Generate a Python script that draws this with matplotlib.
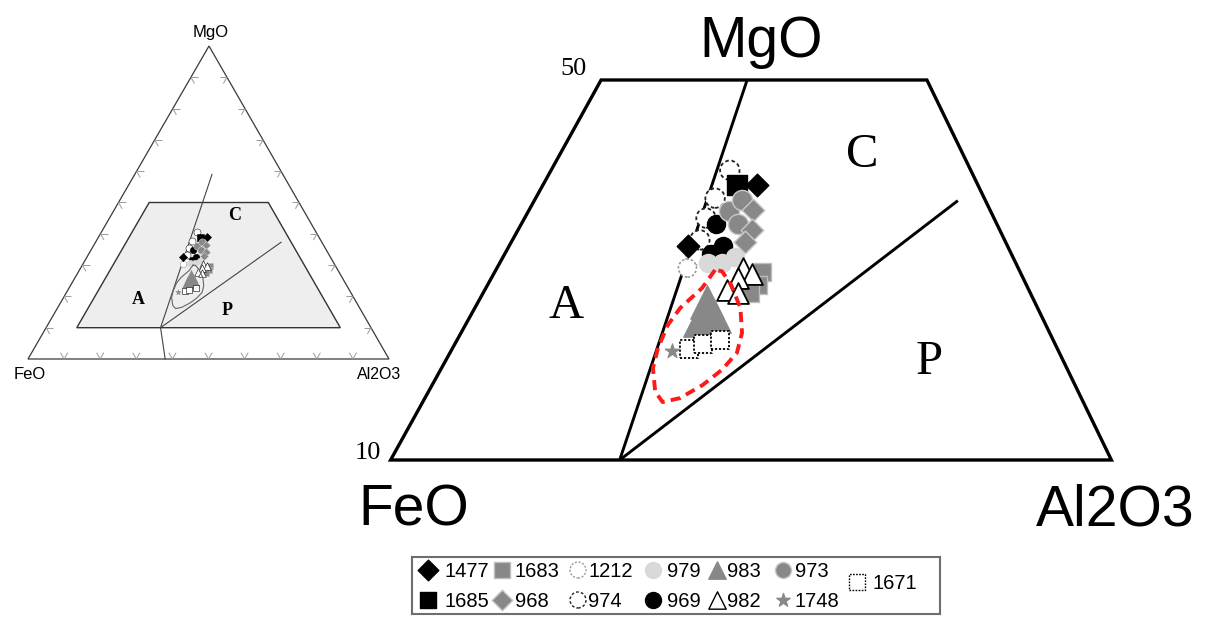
import numpy as np
import matplotlib
matplotlib.use("Agg")
import matplotlib.pyplot as plt
from matplotlib.transforms import Affine2D
from matplotlib.patches import Polygon
from matplotlib.collections import LineCollection

W, H = 1205, 617

# ---------------- compositions, wt% (FeO, MgO, Al2O3) ----------------
c1477 = [(30.9, 39.0, 30.2), (40.9, 32.5, 26.6)]
c1683 = [(34.7, 29.8, 35.6), (35.7, 28.4, 35.9), (36.9, 27.6, 35.5)]
c1212 = [(40.7, 31.5, 27.9), (42.0, 30.2, 27.8)]
c979 = [(39.7, 30.7, 29.6), (38.3, 30.7, 31.0), (36.7, 31.4, 32.0)]
c983 = [(41.7, 26.6, 31.7), (43.3, 24.7, 32.0), (41.7, 25.2, 33.2)]
c973 = [(35.0, 36.2, 28.8), (33.1, 37.4, 29.5), (34.7, 34.8, 30.5)]
c1671 = [(45.8, 21.7, 32.5), (44.2, 22.2, 33.6), (42.3, 22.6, 35.1)]
c1685 = [(32.9, 39.0, 28.2)]
c968 = [(32.5, 36.3, 31.2), (33.6, 34.2, 32.2), (34.9, 33.0, 32.2)]
c974 = [(32.9, 40.5, 26.6), (35.8, 37.6, 26.7), (37.7, 35.5, 26.9), (39.4, 33.2, 27.5)]
c969 = [(36.9, 34.8, 28.2), (37.3, 32.5, 30.2), (38.9, 31.7, 29.4)]
c982 = [(36.4, 30.2, 33.4), (35.8, 29.6, 34.7), (37.4, 29.2, 33.5),
        (39.1, 27.9, 33.0), (38.1, 27.6, 34.3)]
c1748 = [(47.6, 21.5, 30.9)]

samples = {"1477": c1477, "1683": c1683, "1212": c1212, "979": c979,
           "983": c983, "973": c973, "1671": c1671, "1685": c1685,
           "968": c968, "974": c974, "969": c969, "982": c982, "1748": c1748}

# field window (MgO 10-50) and field boundaries
field_window = [(81.5, 10, 8.5), (8.5, 10, 81.5), (8.5, 50, 41.5), (41.5, 50, 8.5)]
boundary_AC = [(62.0, 0, 38.0), (58.3, 10, 31.7), (19.6, 59, 21.4)]
boundary_CP = [(58.3, 10, 31.7), (11.3, 37.3, 51.4)]
# outline of the sample group
group_outline = [(39.3, 30.0, 30.7), (41.5, 28.1, 30.4), (44.7, 26.0, 29.3),
                 (46.8, 24.2, 29.0), (48.9, 21.8, 29.3), (50.4, 19.7, 29.9),
                 (51.4, 17.2, 31.5), (51.1, 16.1, 32.8), (49.1, 16.5, 34.3),
                 (46.2, 17.9, 35.9), (43.5, 19.5, 37.0), (41.2, 21.3, 37.6),
                 (39.7, 23.4, 37.0), (38.6, 26.0, 35.4), (38.4, 28.5, 33.1),
                 (38.7, 29.9, 31.5)]
tick_levels = [10, 20, 30, 40, 50, 60, 70, 80, 90]

GREY = "#888888"
LIGHT = "#d9d9d9"
styles = {
    "1477": dict(marker="D", fc="black", ec="black", ls="solid", ms=11.5, lw=1.0),
    "1683": dict(marker="s", fc=GREY, ec="#bdbdbd", ls="solid", ms=13, lw=1.0),
    "1212": dict(marker="o", fc="white", ec="#9a9a9a", ls=(0, (1.5, 1.2)), ms=13, lw=1.2),
    "979": dict(marker="o", fc=LIGHT, ec=LIGHT, ls="solid", ms=13, lw=1.0),
    "983": dict(marker="^", fc=GREY, ec=GREY, ls="solid", ms=24, lw=1.0),
    "973": dict(marker="o", fc=GREY, ec="#c8c8c8", ls="solid", ms=14.5, lw=1.0),
    "1671": dict(marker="s", fc="white", ec="black", ls=(0, (1.2, 1.0)), ms=13, lw=1.3),
    "1685": dict(marker="s", fc="black", ec="black", ls="solid", ms=14, lw=1.0),
    "968": dict(marker="D", fc=GREY, ec="#c8c8c8", ls="solid", ms=11.5, lw=1.0),
    "974": dict(marker="o", fc="white", ec="#222222", ls=(0, (2.0, 1.5)), ms=14, lw=1.3),
    "969": dict(marker="o", fc="black", ec="black", ls="solid", ms=13, lw=1.0),
    "982": dict(marker="^", fc="white", ec="black", ls="solid", ms=15, lw=1.3),
    "1748": dict(marker="*", fc=GREY, ec=GREY, ls="solid", ms=11, lw=0.8),
}
draw_order = ["1212", "974", "1685", "1477", "969", "979", "973", "968",
              "1683", "982", "983", "1671", "1748"]


def cart(rows):
    r = np.asarray(rows, float)
    r = r / r.sum(axis=1, keepdims=True)
    x = r[:, 2] + r[:, 1] / 2.0
    y = r[:, 1] * np.sqrt(3) / 2.0
    return np.column_stack([x, y])


def fit_affine(src, dst):
    src = np.asarray(src, float)
    dst = np.asarray(dst, float)
    A = np.column_stack([src, np.ones(len(src))])
    coef, *_ = np.linalg.lstsq(A, dst, rcond=None)
    m = np.eye(3)
    m[0, :] = coef[:, 0]
    m[1, :] = coef[:, 1]
    return Affine2D(m)


fig = plt.figure(figsize=(W / 100, H / 100), dpi=100)
ax = fig.add_axes([0, 0, 1, 1])
ax.set_xlim(0, W)
ax.set_ylim(H, 0)
ax.axis("off")

SANS = "Liberation Sans"
SERIF = "Liberation Serif"

# ---------------- inset: full ternary ----------------
corners = [(100, 0, 0), (0, 0, 100), (0, 100, 0)]
tr_in = fit_affine(cart(corners), [(28, 359), (389, 359), (209, 46)]) + ax.transData

tri = Polygon(cart(corners), closed=True, fill=False, ec="#3a3a3a", lw=0.9,
              transform=tr_in, zorder=2)
ax.add_patch(tri)

# chevron ticks along the three edges
L = 0.02
segs = []
s3 = np.sqrt(3) / 2
for t in np.asarray(tick_levels) / 100.0:
    p = np.array([t, 0.0])
    for d in [(0.5, s3), (-0.5, s3)]:
        segs.append([p, p + L * np.array(d)])
    p = np.array([0.5 * t, s3 * t])
    for d in [(1.0, 0.0), (0.5, -s3)]:
        segs.append([p, p + L * np.array(d)])
    p = np.array([1 - 0.5 * t, s3 * t])
    for d in [(-1.0, 0.0), (-0.5, -s3)]:
        segs.append([p, p + L * np.array(d)])
ax.add_collection(LineCollection(segs, colors="#9a9a9a", linewidths=0.7,
                                 transform=tr_in, zorder=2))

win_in = Polygon(cart(field_window), closed=True, fc="#eeeeee", ec="#333333",
                 lw=1.0, transform=tr_in, zorder=3)
ax.add_patch(win_in)
for b in (boundary_AC, boundary_CP):
    xy = cart(b)
    ax.plot(xy[:, 0], xy[:, 1], color="#444444", lw=0.8, transform=tr_in, zorder=4)

g = cart(group_outline + group_outline[:1])
ax.plot(g[:, 0], g[:, 1], color="#666666", lw=0.8, transform=tr_in, zorder=6)

for k, name in enumerate(draw_order):
    st = styles[name]
    xy = cart(samples[name])
    ax.scatter(xy[:, 0], xy[:, 1], s=(st["ms"] * 0.36) ** 2, marker=st["marker"],
               facecolors=st["fc"], edgecolors=st["ec"], linewidths=0.4,
               transform=tr_in, zorder=5)

ax.text(211, 37, "MgO", family=SANS, fontsize=12, ha="center", va="baseline")
ax.text(30, 379, "FeO", family=SANS, fontsize=12, ha="center", va="baseline")
ax.text(379, 379, "Al2O3", family=SANS, fontsize=11.5, ha="center", va="baseline")
ax.text(138, 304, "A", family=SERIF, fontsize=13, weight="bold", ha="center", va="baseline")
ax.text(235, 220, "C", family=SERIF, fontsize=13, weight="bold", ha="center", va="baseline")
ax.text(227, 315, "P", family=SERIF, fontsize=13, weight="bold", ha="center", va="baseline")

# ---------------- main: enlarged field window ----------------
tr_main = fit_affine(cart(field_window),
                     [(392, 460), (1110, 460), (930, 80), (598, 80)]) + ax.transData

win = Polygon(cart(field_window), closed=True, fill=False, ec="black", lw=2.4,
              joinstyle="miter", transform=tr_main, zorder=10)
ax.add_patch(win)
for b in (boundary_AC, boundary_CP):
    xy = cart(b)
    ln, = ax.plot(xy[:, 0], xy[:, 1], color="black", lw=2.1, transform=tr_main,
                  zorder=9, solid_capstyle="butt")
    ln.set_clip_path(win)

for name in draw_order:
    st = styles[name]
    xy = cart(samples[name])
    ax.scatter(xy[:, 0], xy[:, 1], s=st["ms"] ** 2, marker=st["marker"],
               facecolors=st["fc"], edgecolors=st["ec"], linewidths=st["lw"],
               linestyles=[st["ls"]], transform=tr_main, zorder=11)

g = cart(group_outline + group_outline[:1])
ax.plot(g[:, 0], g[:, 1], color="#ff1a1a", lw=2.8, linestyle=(0, (2.6, 1.6)),
        transform=tr_main, zorder=12)

ax.text(761, 57, "MgO", family=SANS, fontsize=41, ha="center", va="baseline")
ax.text(414, 525, "FeO", family=SANS, fontsize=41, ha="center", va="baseline")
ax.text(1115, 525, "Al2O3", family=SANS, fontsize=41, ha="center", va="baseline")
ax.text(566, 318, "A", family=SERIF, fontsize=35, ha="center", va="baseline")
ax.text(862, 167, "C", family=SERIF, fontsize=35, ha="center", va="baseline")
ax.text(929, 374, "P", family=SERIF, fontsize=35, ha="center", va="baseline")
ax.text(574, 75, "50", family=SERIF, fontsize=19, ha="center", va="baseline")
ax.text(368, 459, "10", family=SERIF, fontsize=19, ha="center", va="baseline")

# ---------------- legend ----------------
lax = fig.add_axes([412 / W, 1 - 614 / H, 528 / W, 57 / H])
lax.set_xlim(412, 940)
lax.set_ylim(614, 557)
lax.set_xticks([])
lax.set_yticks([])
for sp in lax.spines.values():
    sp.set_color("#6e6e6e")
    sp.set_linewidth(1.5)

legend_rows = [["1477", "1683", "1212", "979", "983", "973"],
               ["1685", "968", "974", "969", "982", "1748"]]
key_x = [428, 502, 578, 653, 717, 783]
text_x = [445, 515, 588, 667, 727, 795]
row_y = [570, 600]
key_scale = {"D": 0.75, "s": 0.8, "o": 0.82, "^": 0.8, "*": 0.9}
key_ms = {"D": 10.5, "s": 11.5, "o": 11.5, "^": 12.5, "*": 10}


def legend_key(x, y, name):
    st = styles[name]
    lax.scatter([x], [y], s=key_ms[st["marker"]] ** 2, marker=st["marker"],
                facecolors=st["fc"], edgecolors=st["ec"], linewidths=1.0,
                linestyles=[st["ls"]], clip_on=False)


for r, row in enumerate(legend_rows):
    for c, name in enumerate(row):
        legend_key(key_x[c], row_y[r], name)
        lax.text(text_x[c], row_y[r] + 1, name, family=SANS, fontsize=14.5,
                 ha="left", va="center")
legend_key(857, 582, "1671")
lax.text(873, 583, "1671", family=SANS, fontsize=14.5, ha="left", va="center")

fig.savefig("out.png", dpi=100)
